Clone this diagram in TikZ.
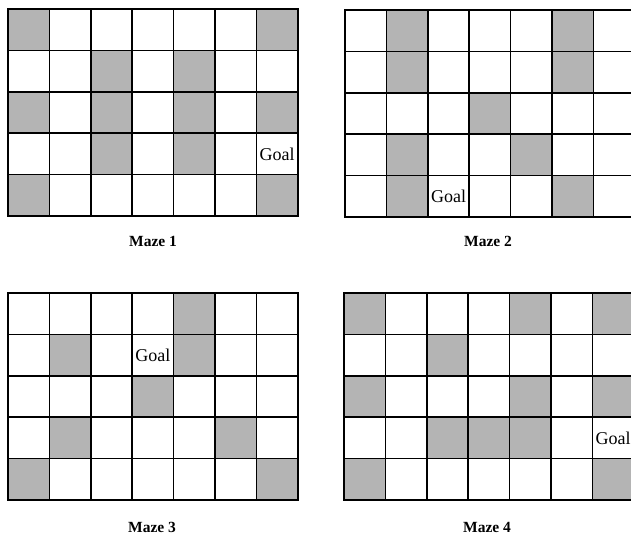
\documentclass[tikz,border=0pt]{standalone}
\usepackage{fontspec}
\setmainfont{Liberation Serif}
\definecolor{shade}{RGB}{180,180,180}
\tikzset{
  cellshade/.style={fill=shade},
  gridline/.style={line width=1.5pt,black},
  frameline/.style={line width=2pt,black},
  goaltext/.style={font=\fontsize{18}{20}\selectfont,inner sep=0pt},
  mazelabel/.style={font=\fontsize{15.5}{18}\selectfont\bfseries,anchor=base,inner sep=0pt}
}
\newcommand{\mazegrid}[4]{%
  % #1 x, #2 y (top-left), #3 list of shaded cells col/row, #4 name
  \begin{scope}[shift={(#1,#2)}]
    \foreach \c/\r in {#3} {
      \fill[cellshade] (\c*41.4,\r*41.4) rectangle ++(41.4,41.4);
    }
    \foreach \i in {1,...,6} { \draw[gridline] (\i*41.4,0) -- (\i*41.4,207); }
    \foreach \j in {1,...,4} { \draw[gridline] (0,\j*41.4) -- (289.8,\j*41.4); }
    \draw[frameline] (0,0) rectangle (289.8,207);
    \coordinate (#4) at (144.9,207);
  \end{scope}}
\begin{document}
\begin{tikzpicture}[x=1pt,y=-1pt]
\useasboundingbox (0,0) rectangle (631,534);
\mazegrid{8}{9}{0/0,6/0,2/1,4/1,0/2,2/2,4/2,6/2,2/3,4/3,0/4,6/4}{m1}
\mazegrid{345}{10}{1/0,5/0,1/1,5/1,3/2,1/3,4/3,1/4,5/4}{m2}
\mazegrid{8}{293}{4/0,1/1,4/1,3/2,1/3,5/3,0/4,6/4}{m3}
\mazegrid{344}{293}{0/0,4/0,6/0,2/1,0/2,4/2,6/2,2/3,3/3,4/3,0/4,6/4}{m4}
\node[goaltext] (g1) at (8+6.5*41.4,9+3.5*41.4) {Goal};
\node[goaltext] (g2) at (345+2.5*41.4,10+4.5*41.4) {Goal};
\node[goaltext] (g3) at (8+3.5*41.4,293+1.5*41.4) {Goal};
\node[goaltext] (g4) at (344+6.5*41.4,293+3.5*41.4) {Goal};
\node[mazelabel] (l1) at (153,247) {Maze 1};
\node[mazelabel] (l2) at (488,247) {Maze 2};
\node[mazelabel] (l3) at (152,532) {Maze 3};
\node[mazelabel] (l4) at (487,532) {Maze 4};
\end{tikzpicture}
\end{document}
